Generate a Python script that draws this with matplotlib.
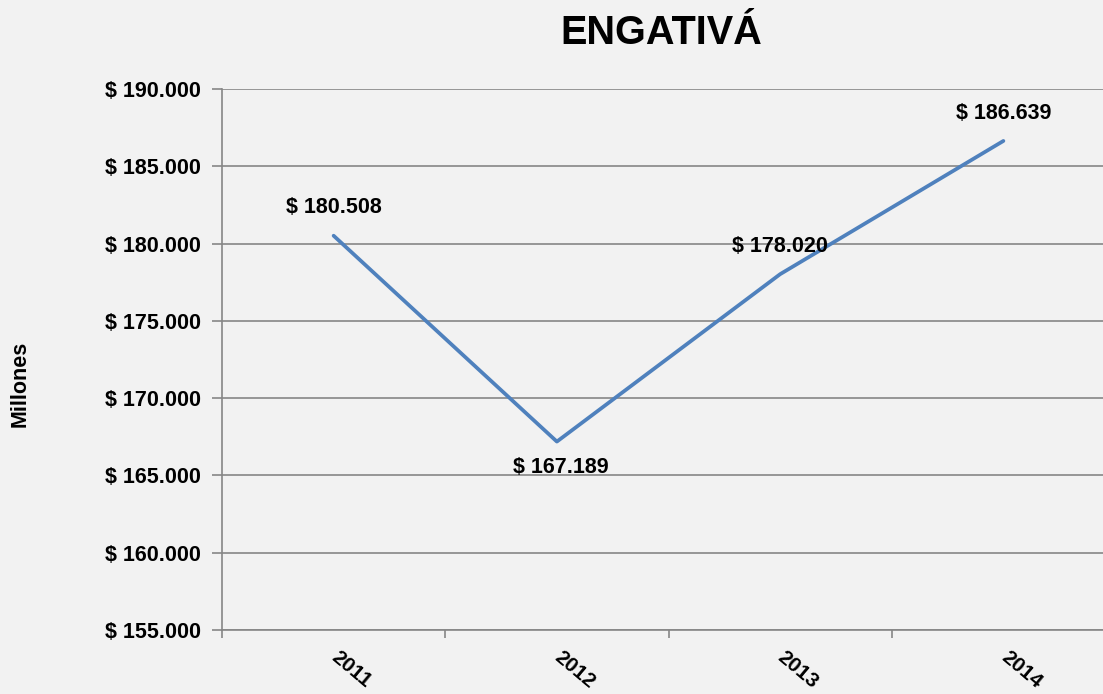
import matplotlib.pyplot as plt
import numpy as np

years = ['2011', '2012', '2013', '2014']
valores = [180508, 167189, 178020, 186639]
etiquetas = ['$ 180.508', '$ 167.189', '$ 178.020', '$ 186.639']
y_ticks = [155000, 160000, 165000, 170000, 175000, 180000, 185000, 190000]

plt.rcParams['font.family'] = ['Liberation Sans', 'DejaVu Sans']
plt.rcParams['font.weight'] = 'bold'

fig = plt.figure(figsize=(11.03, 6.94), dpi=100)
fig.patch.set_facecolor('#F2F2F2')
ax = fig.add_axes([222 / 1103, 1 - 630 / 694, (1115 - 222) / 1103, (630 - 89) / 694])
ax.set_facecolor('#F2F2F2')

x = np.arange(1, len(years) + 1)
ax.plot(x, valores, color='#4F81BD', linewidth=2.7, solid_capstyle='round', zorder=3)

# etiquetas de datos
offsets = [(0, 20), (3, -19), (0, 20), (0, 20)]
for xi, v, lab, off in zip(x, valores, etiquetas, offsets):
    ax.annotate(lab, (xi, v), xytext=off, textcoords='offset points',
                ha='center', va='center', fontsize=15.5, fontweight='bold', zorder=4)

ax.set_xlim(0.5, len(years) + 0.5)
ax.set_ylim(155000, 190000)
ax.set_yticks(y_ticks)
ax.set_yticklabels(['$ ' + f'{v:,}'.replace(',', '.') for v in y_ticks],
                   fontsize=15.5, fontweight='bold')
ax.yaxis.grid(True, color='#868686', linewidth=1.2)
ax.set_axisbelow(True)

ax.set_xticks(x)
ax.set_xticklabels(years, fontsize=15, fontweight='bold', rotation=-40,
                   rotation_mode='anchor', ha='left', va='center')
ax.tick_params(axis='x', which='major', length=0, pad=18)
ax.set_xticks(np.arange(0.5, len(years) + 1, 1), minor=True)
ax.tick_params(axis='x', which='minor', length=6, color='#868686', width=1.2, direction='out')
ax.tick_params(axis='y', length=7, color='#868686', width=1.2, pad=8)

for s in ['top', 'right']:
    ax.spines[s].set_visible(False)
ax.spines['left'].set_color('#868686')
ax.spines['bottom'].set_color('#868686')
ax.spines['left'].set_linewidth(1.2)
ax.spines['bottom'].set_linewidth(1.2)

fig.text(661 / 1103, 1 - 33 / 694, 'ENGATIVÁ', ha='center', va='center',
         fontsize=28.5, fontweight='bold')
fig.text(20 / 1103, 1 - 384 / 694, 'Millones', rotation=90, ha='center', va='center',
         fontsize=15.5, fontweight='bold')

fig.savefig('out.png', dpi=100, facecolor=fig.get_facecolor())
